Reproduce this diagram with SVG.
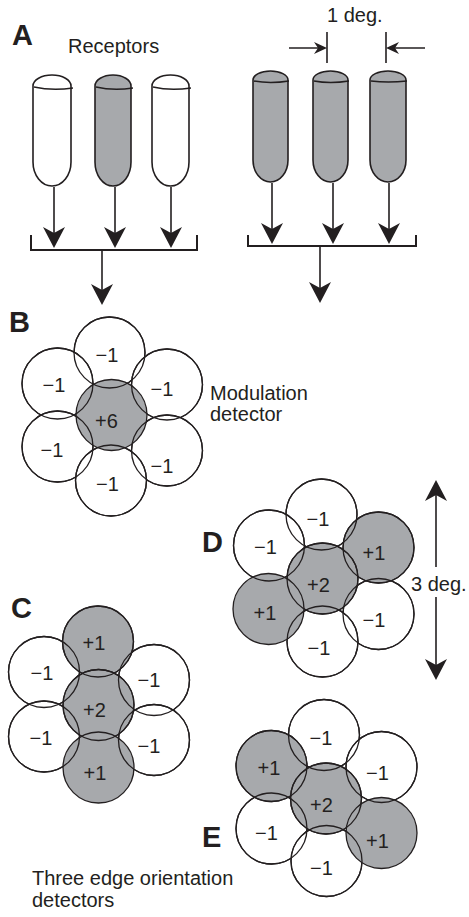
<svg xmlns="http://www.w3.org/2000/svg" width="469" height="917" viewBox="0 0 469 917">
<defs>
<style>
.w{fill:#fff;stroke:#231f20;stroke-width:1.3}
.g{fill:#a7a9ac;stroke:#231f20;stroke-width:1.3}
.o{fill:none;stroke:#231f20;stroke-width:1.3}
.t{font-family:"Liberation Sans",Arial,sans-serif;font-size:20px;fill:#231f20}
.n{font-family:"Liberation Sans",Arial,sans-serif;font-size:20px;fill:#231f20;text-anchor:middle}
.L{font-family:"Liberation Sans",Arial,sans-serif;font-size:29px;font-weight:bold;fill:#231f20}
.rw{fill:#fff;stroke:#231f20;stroke-width:1.6}
.rg{fill:#a7a9ac;stroke:#231f20;stroke-width:1.6}
.rim{fill:none;stroke:#231f20;stroke-width:1.4}
.ln{fill:none;stroke:#231f20;stroke-width:1.6}
.br{fill:none;stroke:#231f20;stroke-width:2}
</style>
<marker id="ah" viewBox="-22 -12 23 24" refX="-10" refY="0" markerWidth="23" markerHeight="24" markerUnits="userSpaceOnUse" orient="auto">
<path d="M0,0 L-21,-11 L-15,0 L-21,11 Z" fill="#231f20"/>
</marker>
<marker id="as" viewBox="-14 -7 15 14" refX="-5" refY="0" markerWidth="15" markerHeight="14" markerUnits="userSpaceOnUse" orient="auto">
<path d="M0,0 L-13,-6 L-9,0 L-13,6 Z" fill="#231f20"/>
</marker>
</defs>
<rect width="469" height="917" fill="#fff"/>

<!-- labels -->
<g id="labels">
<text class="L" x="12" y="45">A</text>
<text class="L" x="9" y="332">B</text>
<text class="L" x="11" y="618">C</text>
<text class="L" x="202" y="552">D</text>
<text class="L" x="202" y="847">E</text>
<text class="t" x="68" y="53">Receptors</text>
<text class="t" x="327" y="22">1 deg.</text>
<text class="t" x="210" y="400">Modulation</text>
<text class="t" x="210" y="421">detector</text>
<text class="t" x="411" y="591">3 deg.</text>
<text class="t" x="32" y="885">Three edge orientation</text>
<text class="t" x="32" y="907">detectors</text>
</g>

<!-- receptors -->
<g id="rec1"><path class="rw" d="M33,86 L33,162 A19,24 0 0 0 71,162 L71,86 A19,11 0 0 0 33,86 Z"/><path class="rim" d="M34,87 Q52,91 73,88"/></g>
<g id="rec2"><path class="rg" d="M95,86 L95,162 A18,24 0 0 0 131,162 L131,86 A18,11 0 0 0 95,86 Z"/><path class="rim" d="M96,87 Q113,91 133,88"/></g>
<g id="rec3"><path class="rw" d="M152,86 L152,162 A18.5,24 0 0 0 189,162 L189,86 A18.5,11 0 0 0 152,86 Z"/><path class="rim" d="M153,87 Q170,91 191,88"/></g>
<g id="rec4"><path class="rg" d="M253,80 L253,160 A17.5,22 0 0 0 288,160 L288,80 A17.5,9 0 0 0 253,80 Z"/><path class="rim" d="M254,81 Q270,84 289,81"/></g>
<g id="rec5"><path class="rg" d="M313,80 L313,160 A17.5,22 0 0 0 348,160 L348,80 A17.5,9 0 0 0 313,80 Z"/><path class="rim" d="M314,81 Q330,84 349,81"/></g>
<g id="rec6"><path class="rg" d="M370,80 L370,160 A18,22 0 0 0 406,160 L406,80 A18,9 0 0 0 370,80 Z"/><path class="rim" d="M371,81 Q388,83 407,81"/></g>

<!-- connectors -->
<g id="connectors">
<line class="ln" x1="54" y1="187" x2="54" y2="238" marker-end="url(#ah)"/>
<line class="ln" x1="115" y1="187" x2="115" y2="238" marker-end="url(#ah)"/>
<line class="ln" x1="171" y1="187" x2="171" y2="238" marker-end="url(#ah)"/>
<path class="br" d="M31,235 L31,250 L197,250 L197,235"/>
<line class="ln" x1="102" y1="250" x2="102" y2="295" marker-end="url(#ah)"/>
<line class="ln" x1="272" y1="183" x2="272" y2="234" marker-end="url(#ah)"/>
<line class="ln" x1="333" y1="183" x2="333" y2="234" marker-end="url(#ah)"/>
<line class="ln" x1="389" y1="183" x2="389" y2="234" marker-end="url(#ah)"/>
<path class="br" d="M248,235 L248,246 L416,246 L416,235"/>
<line class="ln" x1="320" y1="246" x2="320" y2="293" marker-end="url(#ah)"/>
<line class="ln" x1="327" y1="32" x2="327" y2="63"/>
<line class="ln" x1="386" y1="32" x2="386" y2="63"/>
<line class="ln" x1="289" y1="48" x2="322" y2="48" marker-end="url(#as)"/>
<line class="ln" x1="425" y1="48" x2="391" y2="48" marker-end="url(#as)"/>
<line class="ln" x1="436" y1="567" x2="436" y2="490" marker-end="url(#ah)"/>
<line class="ln" x1="436" y1="597" x2="436" y2="670" marker-end="url(#ah)"/>
</g>

<!-- panel B -->
<g id="B-top"><circle class="w" cx="109.5" cy="352.5" r="35.5"/></g>
<g id="B-ul"><circle class="w" cx="57.5" cy="383.5" r="35.5"/></g>
<g id="B-ur"><circle class="w" cx="167" cy="384.5" r="35.5"/></g>
<g id="B-ll"><circle class="w" cx="57.5" cy="446.5" r="35.5"/></g>
<g id="B-lr"><circle class="w" cx="167" cy="450.5" r="35.5"/></g>
<g id="B-bot"><circle class="w" cx="111" cy="480.5" r="35.5"/></g>
<g id="B-c"><circle class="g" cx="111.5" cy="415" r="35.5"/></g>

<!-- panel C -->
<g id="C-ul"><circle class="w" cx="44" cy="672" r="35.5"/></g>
<g id="C-ur"><circle class="w" cx="154" cy="680" r="35.5"/></g>
<g id="C-ll"><circle class="w" cx="44" cy="736.5" r="35.5"/></g>
<g id="C-lr"><circle class="w" cx="154" cy="740" r="35.5"/></g>
<g id="C-top"><circle class="g" cx="98" cy="641.5" r="35.5"/></g>
<g id="C-c"><circle class="g" cx="98.5" cy="705" r="35.5"/></g>
<g id="C-bot"><circle class="g" cx="98.5" cy="767.5" r="35.5"/></g>

<!-- panel D -->
<g id="D-top"><circle class="w" cx="321.5" cy="514.5" r="35.5"/></g>
<g id="D-ul"><circle class="w" cx="269" cy="545.5" r="35.5"/></g>
<g id="D-lr"><circle class="w" cx="378.5" cy="614" r="35.5"/></g>
<g id="D-bot"><circle class="w" cx="322.5" cy="641.5" r="35.5"/></g>
<g id="D-ur"><circle class="g" cx="378.5" cy="547.5" r="35.5"/></g>
<g id="D-c"><circle class="g" cx="322.5" cy="578.5" r="35.5"/></g>
<g id="D-ll"><circle class="g" cx="268.5" cy="609" r="35.5"/></g>

<!-- panel E -->
<g id="E-top"><circle class="w" cx="324" cy="735" r="35.5"/></g>
<g id="E-ur"><circle class="w" cx="381.5" cy="767" r="35.5"/></g>
<g id="E-ll"><circle class="w" cx="271.5" cy="828.5" r="35.5"/></g>
<g id="E-bot"><circle class="w" cx="326.5" cy="861" r="35.5"/></g>
<g id="E-ul"><circle class="g" cx="271.5" cy="766" r="35.5"/></g>
<g id="E-c"><circle class="g" cx="326" cy="798.5" r="35.5"/></g>
<g id="E-lr"><circle class="g" cx="381.5" cy="833" r="35.5"/></g>

<!-- outlines over fills -->
<g id="outlines">
<circle class="o" cx="109.5" cy="352.5" r="35.5"/><circle class="o" cx="57.5" cy="383.5" r="35.5"/><circle class="o" cx="167" cy="384.5" r="35.5"/><circle class="o" cx="57.5" cy="446.5" r="35.5"/><circle class="o" cx="167" cy="450.5" r="35.5"/><circle class="o" cx="111" cy="480.5" r="35.5"/>
<circle class="o" cx="44" cy="672" r="35.5"/><circle class="o" cx="154" cy="680" r="35.5"/><circle class="o" cx="44" cy="736.5" r="35.5"/><circle class="o" cx="154" cy="740" r="35.5"/><circle class="o" cx="98" cy="641.5" r="35.5"/><circle class="o" cx="98.5" cy="705" r="35.5"/>
<circle class="o" cx="321.5" cy="514.5" r="35.5"/><circle class="o" cx="269" cy="545.5" r="35.5"/><circle class="o" cx="378.5" cy="614" r="35.5"/><circle class="o" cx="322.5" cy="641.5" r="35.5"/><circle class="o" cx="378.5" cy="547.5" r="35.5"/><circle class="o" cx="322.5" cy="578.5" r="35.5"/>
<circle class="o" cx="324" cy="735" r="35.5"/><circle class="o" cx="381.5" cy="767" r="35.5"/><circle class="o" cx="271.5" cy="828.5" r="35.5"/><circle class="o" cx="326.5" cy="861" r="35.5"/><circle class="o" cx="271.5" cy="766" r="35.5"/><circle class="o" cx="326" cy="798.5" r="35.5"/>
</g>

<!-- cell labels -->
<g id="cell-labels">
<text class="n" x="107" y="362">−1</text>
<text class="n" x="54" y="392">−1</text>
<text class="n" x="162" y="396">−1</text>
<text class="n" x="106.5" y="428">+6</text>
<text class="n" x="52" y="457">−1</text>
<text class="n" x="162" y="473">−1</text>
<text class="n" x="107.5" y="491">−1</text>

<text class="n" x="94" y="650">+1</text>
<text class="n" x="42" y="680">−1</text>
<text class="n" x="149" y="687">−1</text>
<text class="n" x="94.5" y="717">+2</text>
<text class="n" x="41" y="745">−1</text>
<text class="n" x="149" y="753">−1</text>
<text class="n" x="95" y="780">+1</text>

<text class="n" x="318" y="526">−1</text>
<text class="n" x="265.5" y="554">−1</text>
<text class="n" x="374" y="560">+1</text>
<text class="n" x="318.5" y="592">+2</text>
<text class="n" x="265" y="620">+1</text>
<text class="n" x="374" y="627">−1</text>
<text class="n" x="319" y="655">−1</text>

<text class="n" x="321" y="745">−1</text>
<text class="n" x="269" y="775">+1</text>
<text class="n" x="377.5" y="780">−1</text>
<text class="n" x="321.5" y="812">+2</text>
<text class="n" x="266.5" y="840">−1</text>
<text class="n" x="377.5" y="848">+1</text>
<text class="n" x="321.5" y="875">−1</text>
</g>
</svg>
